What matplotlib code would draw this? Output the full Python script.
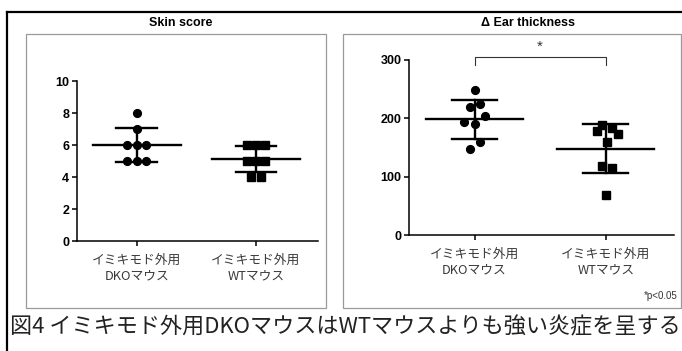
import numpy as np
import matplotlib
matplotlib.use("Agg")
import matplotlib.pyplot as plt
from matplotlib.patches import Rectangle
from matplotlib.lines import Line2D

# -----------------------
# DATA
# -----------------------
groups = ["イミキモド外用\nDKOマウス", "イミキモド外用\nWTマウス"]

skin_dko = [8, 7, 6, 6, 6, 5, 5, 5]
skin_dko_dx = [0, 0, -0.08, 0, 0.08, -0.08, 0, 0.08]
skin_wt = [6, 6, 6, 5, 5, 5, 4, 4]
skin_wt_dx = [-0.078, 0, 0.075, -0.078, 0, 0.075, -0.04, 0.04]

ear_dko = [248, 219, 225, 204, 194, 191, 159, 148]
ear_dko_dx = [0, -0.038, 0.038, 0.082, -0.077, 0, 0.038, -0.038]
ear_wt = [189, 184, 178, 173, 159, 119, 115, 69]
ear_wt_dx = [-0.03, 0.05, -0.07, 0.09, 0.013, -0.03, 0.05, 0]

skin_ticks = [0, 2, 4, 6, 8, 10]
ear_ticks = [0, 100, 200, 300]

caption = "図4 イミキモド外用DKOマウスはWTマウスよりも強い炎症を呈する"

plt.rcParams['font.family'] = ['Liberation Sans', 'Noto Sans CJK JP', 'DejaVu Sans']

W, H = 682, 351
fig = plt.figure(figsize=(W / 100, H / 100), dpi=100)


def px(x0, y0, x1, y1):
    # pixel box -> figure rect
    return [x0 / W, 1 - y1 / H, (x1 - x0) / W, (y1 - y0) / H]


# outer frame and panel boxes
fig.add_artist(Line2D([7 / W, 1], [1 - 12 / H, 1 - 12 / H], color='black', lw=1.6))
fig.add_artist(Line2D([7 / W, 7 / W], [0, 1 - 12 / H], color='black', lw=1.6))
for bx in [(26, 34, 326, 308), (343, 34, 681, 308)]:
    r = px(*bx)
    fig.add_artist(Rectangle((r[0], r[1]), r[2], r[3], fill=False,
                             edgecolor='#9a9a9a', lw=0.9, transform=fig.transFigure))


def scatter_panel(ax, a, adx, b, bdx, ticks, ytop):
    for i, (vals, dx, mk) in enumerate([(a, adx, 'o'), (b, bdx, 's')]):
        vals = np.array(vals, dtype=float)
        m = vals.mean()
        sd = vals.std(ddof=1)
        ax.plot([i - 0.37, i + 0.37], [m, m], color='black', lw=1.7, zorder=2)
        ax.plot([i - 0.17, i + 0.17], [m + sd, m + sd], color='black', lw=1.7, zorder=2)
        ax.plot([i - 0.17, i + 0.17], [m - sd, m - sd], color='black', lw=1.7, zorder=2)
        ax.plot([i, i], [m - sd, m + sd], color='black', lw=1.7, zorder=2)
        ax.plot(i + np.array(dx), vals, mk, color='black', ms=5.6, zorder=3,
                clip_on=False)
    ax.set_xlim(-0.5, 1.52)
    ax.set_ylim(0, ytop)
    ax.set_yticks(ticks)
    ax.set_yticklabels([str(t) for t in ticks], fontsize=9, fontweight='bold')
    ax.set_xticks([0, 1])
    ax.set_xticklabels(groups, fontsize=9.2, color='#3a3a3a',
                       family=['Noto Sans CJK JP', 'DejaVu Sans'], linespacing=1.2)
    ax.spines['top'].set_visible(False)
    ax.spines['right'].set_visible(False)
    ax.spines['left'].set_bounds(ticks[0], ticks[-1])
    for s in ['left', 'bottom']:
        ax.spines[s].set_linewidth(1.1)
    ax.tick_params(width=1.1, length=3.5, pad=2)
    ax.tick_params(axis='x', pad=6)
    ax.patch.set_alpha(0)


# -----------------------
# SKIN SCORE
# -----------------------
ax1 = fig.add_axes(px(77, 50, 318, 241))
scatter_panel(ax1, skin_dko, skin_dko_dx, skin_wt, skin_wt_dx, skin_ticks,
              (241 - 50) / 16)
fig.text(181 / W, 1 - 23.5 / H, "Skin score", ha='center', va='center',
         fontsize=9, fontweight='bold')

# -----------------------
# EAR THICKNESS
# -----------------------
ax2 = fig.add_axes(px(409, 50, 674, 235))
scatter_panel(ax2, ear_dko, ear_dko_dx, ear_wt, ear_wt_dx, ear_ticks,
              (235 - 50) / (175 / 300))
fig.text(528 / W, 1 - 23.5 / H, "Δ Ear thickness", ha='center', va='center',
         fontsize=9, fontweight='bold')

# significance bracket
ax2.plot([0, 0, 1, 1], [292, 306, 306, 292], color='#333333', lw=0.8, clip_on=False)
ax2.text(0.5, 311, "*", ha='center', va='bottom', fontsize=11, color='#333333')

fig.text(678 / W, 1 - 296 / H, "*p<0.05", ha='right', va='center',
         fontsize=7, color='#333333')

fig.text(10 / W, 1 - 327 / H, caption, ha='left', va='center', fontsize=15.9,
         color='#222222', family=['Noto Sans CJK JP', 'DejaVu Sans'])

fig.savefig("out.png", dpi=100)
